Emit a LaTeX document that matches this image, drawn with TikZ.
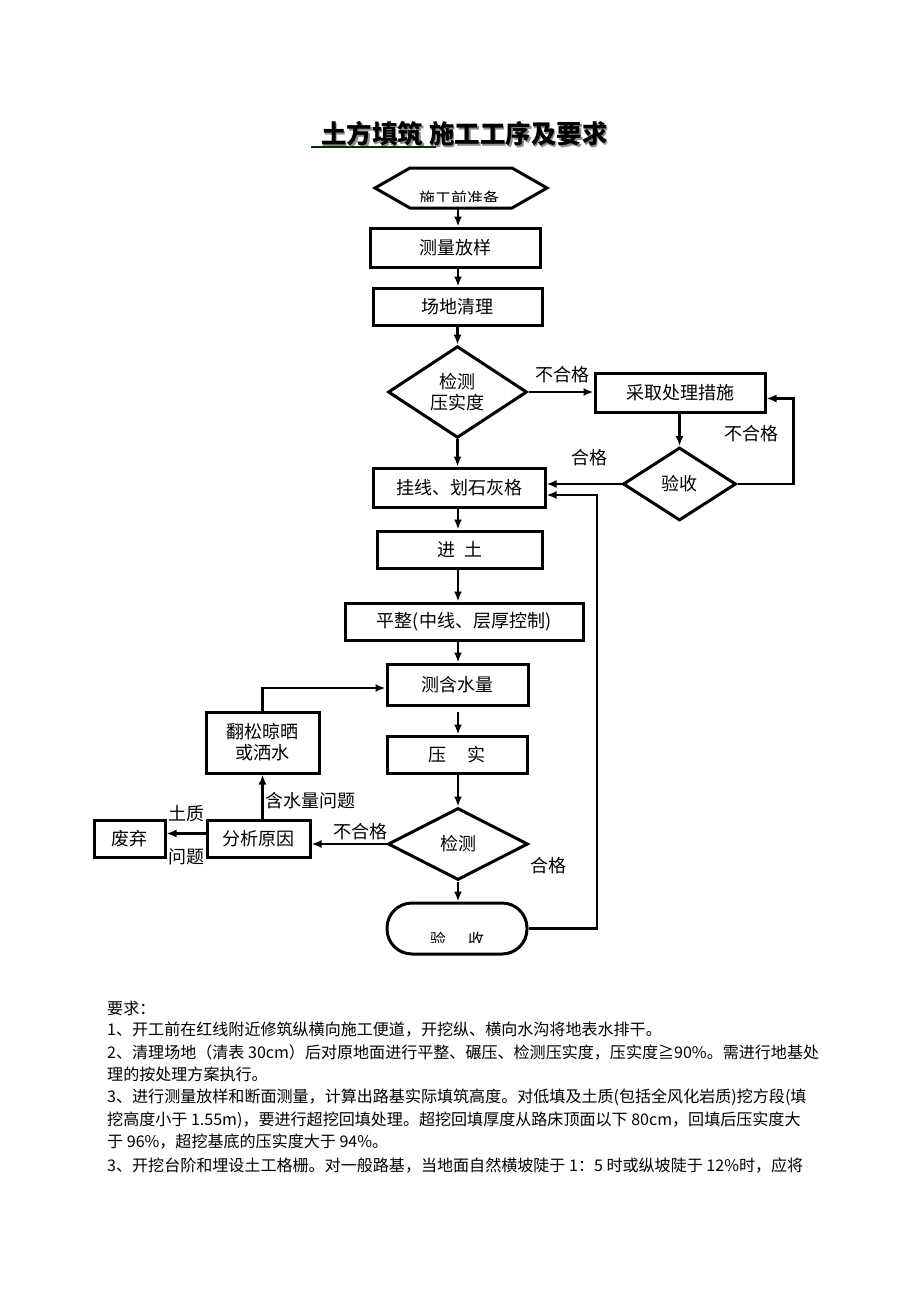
\documentclass[tikz,border=0pt]{standalone}
\usepackage{fontspec}
\setmainfont{Noto Sans CJK SC}
\usetikzlibrary{shapes.geometric,arrows.meta,calc}
\newcommand{\myfs}[1]{\fontsize{#1pt}{#1pt}\selectfont}
\begin{document}
\begin{tikzpicture}[x=1pt,y=-1pt,
  box/.style={draw,line width=3pt,rectangle,inner sep=0pt,font=\myfs{18},align=center},
  dia/.style={draw,line width=3pt,diamond,inner sep=0pt,font=\myfs{18},align=center},
  arr/.style={line width=2.2pt,-{Latex[length=10pt,width=8pt]}},
  lbl/.style={font=\myfs{18},inner sep=0pt},
  txt/.style={anchor=west,inner sep=0pt,font=\myfs{16.05}}]
\fill[white] (0,0) rectangle (920,1302);
\path[use as bounding box] (0,0) rectangle (920,1302);

% title
\node[font=\myfs{25.5}\bfseries, text=black!45] at (466,135.5) {土方填筑 施工工序及要求};
\node[font=\myfs{25.5}\bfseries] (title) at (464.5,134) {土方填筑 施工工序及要求};
\draw[line width=2pt, color=black!80!green] (311,146.5) -- (436,146.5);

% hexagon start
\draw[line width=3pt, line join=miter] (375,188) -- (410,168) -- (512,168) -- (547,188) -- (512,208) -- (410,208) -- cycle;
\node[inner sep=0pt, minimum width=172, minimum height=40] (prep) at (461,188) {};
\begin{scope}
  \clip (380,170) rectangle (540,201);
  \node[font=\myfs{16}, inner sep=0pt] at (459,198) {施工前准备};
\end{scope}

\node[box,minimum width=170,minimum height=39] (clfy) at (455,247.5) {测量放样};
\node[box,minimum width=169,minimum height=37] (cdql) at (457.5,306.5) {场地清理};
\node[dia,minimum width=139,minimum height=84] (jcy) at (457.5,392) {检测\\[3pt]压实度};
\node[box,minimum width=170,minimum height=39] (cq) at (680,392.5) {采取处理措施};
\node[dia,minimum width=113,minimum height=73] (ys1) at (679.5,484) {验收};
\node[box,minimum width=172,minimum height=39] (gx) at (459,487.5) {挂线、划石灰格};
\node[box,minimum width=165,minimum height=37] (jt) at (459.5,549.5) {进\hspace{0.5em}土};
\node[box,minimum width=238,minimum height=37] (pz) at (464,621.5) {平整(中线、层厚控制)};
\node[box,minimum width=141,minimum height=41] (hsl) at (457.5,684.5) {测含水量};
\node[box,minimum width=140,minimum height=37] (ysh) at (457,754.5) {压\hspace{1.2em}实};
\node[dia,minimum width=140,minimum height=72] (jc) at (458,844) {检测};
\node[box,rounded corners=25pt,minimum width=140,minimum height=51] (zys) at (457,928.5) {};
\begin{scope}
  \clip (400,910) rectangle (515,942.5);
  \node[font=\myfs{16}, inner sep=0pt] at (457,939) {验\hspace{1.4em}收};
\end{scope}
\node[box,minimum width=113,minimum height=61] (fs) at (262.5,742.5) {翻松晾晒\\[3pt]或洒水};
\node[box,minimum width=103,minimum height=37] (fx) at (258.5,838.5) {分析原因};
\node[box,minimum width=71,minimum height=37] (fq) at (129.5,838.5) {废弃};

% connectors
\coordinate (sp) at (458,0);
\draw[arr] (prep.south -| sp) -- (clfy.north -| sp);
\draw[arr] (clfy.south -| sp) -- (cdql.north -| sp);
\draw[arr] (cdql.south -| jcy.north) -- (jcy.north);
\draw[arr] (jcy.south) -- (gx.north -| jcy.south);
\draw[arr] (jcy.east) -- (cq.west |- jcy.east);
\draw[arr] (cq.south -| ys1.north) -- (ys1.north);
\draw[arr] (ys1.west) -- (gx.east |- ys1.west);
\draw[arr] (ys1.east) -- ++(56,0) |- ($(cq.east)+(0,6)$);
\draw[arr] (gx.south -| sp) -- (jt.north -| sp);
\draw[arr] (jt.south -| sp) -- (pz.north -| sp);
\draw[arr] (pz.south -| sp) -- (hsl.north -| sp);
\draw[arr, shorten <=5pt] (hsl.south -| sp) -- (ysh.north -| sp);
\draw[arr] (ysh.south -| sp) -- (jc.north);
\draw[arr] (jc.south) -- (zys.north -| jc.south);
\coordinate (rt) at (597,495);
\draw[arr] (zys.east) -| (rt) -- (gx.east |- rt);
\draw[arr] (jc.west) -- (fx.east |- jc.west);
\draw[arr] ($(fx.west)+(0,-5)$) -- ($(fq.east)+(0,-5)$);
\draw[arr] (fs.south |- fx.north) -- (fs.south);
\coordinate (lp) at (262.5,688);
\draw[arr] (fs.north) -- (lp) -- (hsl.west |- lp);

% labels
\node[lbl] at (562,375) {不合格};
\node[lbl] at (751,434) {不合格};
\node[lbl] at (589,458) {合格};
\node[lbl] at (360,832) {不合格};
\node[lbl] at (548,866) {合格};
\node[lbl] at (186,814) {土质};
\node[lbl] at (186,857) {问题};
\node[lbl] at (310,801) {含水量问题};

% requirements text
\node[txt] (r0) at (107,1008) {要求：};
\node[txt] (r1) at (107,1030) {1、开工前在红线附近修筑纵横向施工便道，开挖纵、横向水沟将地表水排干。};
\node[txt] (r2) at (107,1052) {2、清理场地（清表 30cm）后对原地面进行平整、碾压、检测压实度，压实度≧90\%。需进行地基处};
\node[txt] (r3) at (107,1074) {理的按处理方案执行。};
\node[txt] (r4) at (107,1097) {3、进行测量放样和断面测量，计算出路基实际填筑高度。对低填及土质(包括全风化岩质)挖方段(填};
\node[txt] (r5) at (107,1120) {挖高度小于 1.55m)，要进行超挖回填处理。超挖回填厚度从路床顶面以下 80cm，回填后压实度大};
\node[txt] (r6) at (107,1142) {于 96\%，超挖基底的压实度大于 94\%。};
\node[txt] (r7) at (107,1166) {3、开挖台阶和埋设土工格栅。对一般路基，当地面自然横坡陡于 1：5 时或纵坡陡于 12\%时，应将};
\end{tikzpicture}
\end{document}
